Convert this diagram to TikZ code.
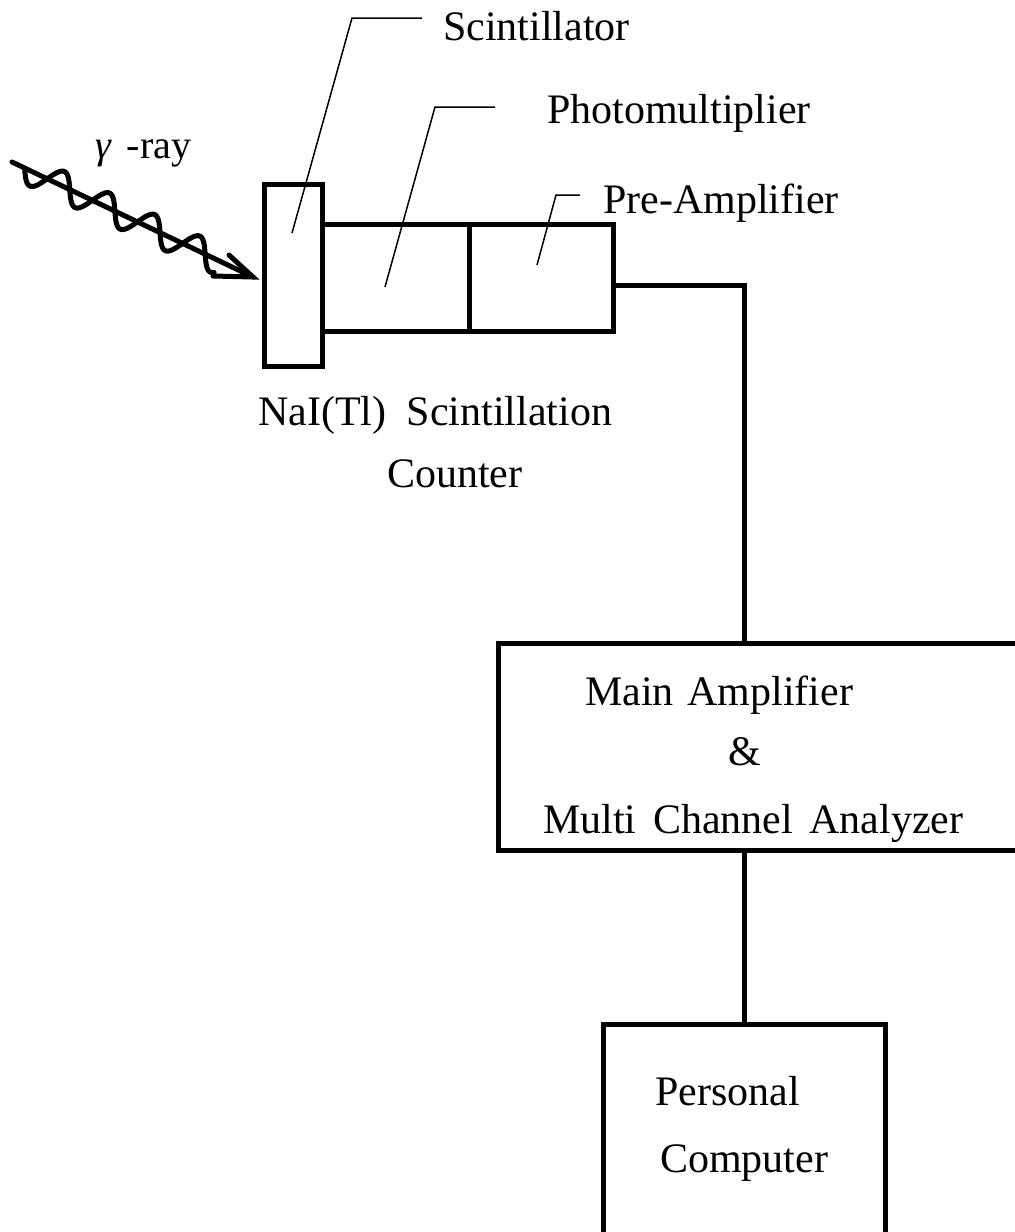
\documentclass[tikz,border=0pt]{standalone}
\usepackage{fontspec}
\setmainfont{Liberation Serif}
\usetikzlibrary{calc}
\begin{document}
\begin{tikzpicture}[x=1pt,y=-1pt,
  box/.style={draw,line width=5pt,rectangle,inner sep=0pt,outer sep=0pt},
  wire/.style={line width=5pt,line cap=rect},
  leader/.style={line width=1.5pt},
  lbl/.style={inner sep=0pt,anchor=base west,font=\fontsize{42}{50}\selectfont},
  ray/.style={line width=5pt,line join=round,line cap=round}]
\useasboundingbox (0,0) rectangle (1015,1232);
\clip (0,0) rectangle (1015,1232);
% detector
\node[box,minimum width=58pt,minimum height=182pt] (scint) at (293,275) {};
\node[box,minimum width=147pt,minimum height=107pt] (pmt) at (395.5,277.5) {};
\node[box,minimum width=144pt,minimum height=107pt] (pre) at (541,277.5) {};
% electronics
\node[box,minimum width=532pt,minimum height=207pt] (main) at (764,746.5) {};
\node[box,minimum width=282pt,minimum height=226pt] (pc) at (744,1137) {};
% connectors
\coordinate (pout) at (613,285);
\coordinate (min) at (744,643);
\coordinate (mout) at (744,850);
\coordinate (pcin) at (744,1024);
\draw[wire] (pout) -| (min);
\draw[wire] (mout) -- (pcin);
% labels
\node[lbl] (tscint) at (443,40) {Scintillator};
\node[lbl] (tpmt) at (547,123) {Photomultiplier};
\node[lbl] (tpre) at (603,213) {Pre-Amplifier};
\node[lbl,font=\fontsize{40}{46}\selectfont] (tray) at (95,158) {{\itshape γ}\hspace{6pt} -ray};
\node[lbl] (tnai) at (258,425) {NaI(Tl)\hspace{10pt} Scintillation};
\node[lbl] (tcnt) at (387,487) {Counter};
\node[lbl] (tmain) at (585,705) {Main\hspace{3pt} Amplifier};
\node[lbl] (tamp) at (728,765) {\&};
\node[lbl] (tmca) at (543,833) {Multi\hspace{6pt} Channel\hspace{6pt} Analyzer};
\node[lbl] (tpers) at (655,1105) {Personal};
\node[lbl] (tcomp) at (660,1172) {Computer};
% leader lines
\coordinate (a1) at (292,233); \coordinate (a2) at (352,18); \coordinate (a3) at (422,18);
\coordinate (b1) at (385,287); \coordinate (b2) at (435,107); \coordinate (b3) at (495,107);
\coordinate (c1) at (537,265); \coordinate (c2) at (556,195); \coordinate (c3) at (580,195);
\draw[leader] (a1) -- (a2) -- (a3);
\draw[leader] (b1) -- (b2) -- (b3);
\draw[leader] (c1) -- (c2) -- (c3);
% gamma ray
\coordinate (gs) at (12,162);
\coordinate (gt) at (253,277);
\draw[ray] (gs) -- (gt);
\draw[ray,line join=miter] (229,255) -- (gt) -- (213,276);
\draw[ray] plot[domain=14:230,samples=220,smooth]
  ({12+0.9026*\x-14*0.4307*sin((\x-14)*7.2)},{162+0.4307*\x+14*0.9026*sin((\x-14)*7.2)});
\end{tikzpicture}
\end{document}
